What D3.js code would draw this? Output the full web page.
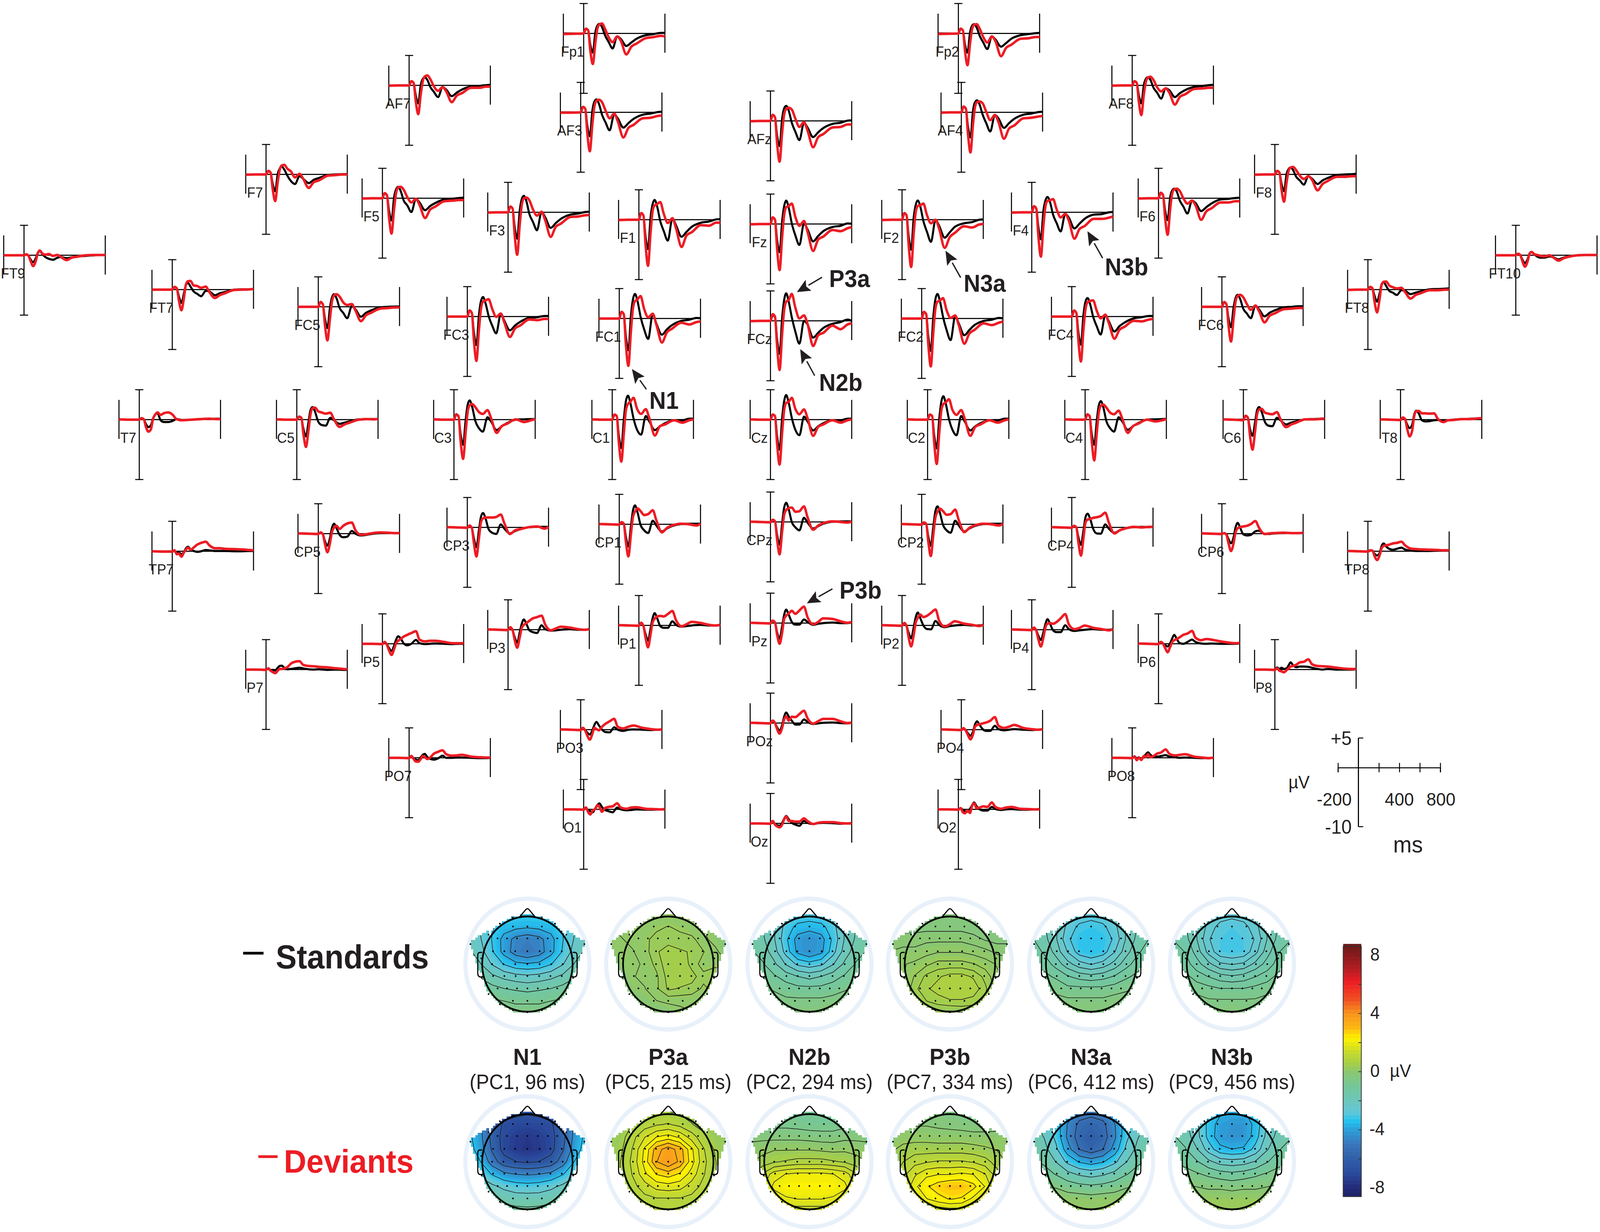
<!DOCTYPE html>
<html>
<head>
<meta charset="utf-8">
<script src="https://cdn.jsdelivr.net/npm/d3@7"></script>
<style>
  html, body { margin: 0; padding: 0; background: #fff; overflow: hidden; }
  svg { display: block; }
  text { font-family: "Liberation Sans", Arial, sans-serif; fill: #231f20; }
</style>
</head>
<body>
<div id="chart"></div>
<script>
// sample times of the traces (ms)
const times = [-200,-100,0,22,45,65,90,115,135,155,180,210,245,285,330,365,420,470,520,610,690,760,800];

// standards (s_) and deviants (d_) in microvolts
const s_Fp1 = [0,0,0,.8,.5,-1.8,-3.2,.2,1.3,1.6,1.1,-.3,-1.4,-2.5,-.5,-.9,-2.1,-1.5,-.9,-.3,-.1,.1,.1];
const d_Fp1 = [-.1,-.05,0,.8,.5,-2.8,-5.1,-1.6,.8,1.5,1.65,.8,-.6,-1.45,-.5,-1.2,-3.5,-2.2,-1.7,-.8,-.6,-.4,-.5];
const s_Fp2 = [0,0,0,.8,.5,-1.8,-3.2,.2,1.3,1.55,1,-.4,-1.5,-2.6,-.5,-1,-2.2,-1.6,-.9,-.3,-.1,.05,.1];
const d_Fp2 = [-.1,-.05,0,.8,.5,-2.9,-5.3,-1.7,.7,1.45,1.55,.8,-.6,-1.5,-.5,-1.3,-3.8,-2.4,-1.9,-.9,-.8,-.6,-.6];
const s_AF7 = [0,0,0,.7,.4,-1.6,-3,.1,1.1,1.35,.9,-.3,-1.1,-1.95,-.3,-.7,-1.8,-1.2,-.7,-.2,-.1,.05,.1];
const d_AF7 = [-.05,0,0,.7,.4,-2.6,-4.8,-1.5,.7,1.5,1.65,1,-.2,-.9,-.3,-1,-2.8,-1.7,-1.3,-.4,-.4,-.2,-.2];
const s_AF3 = [0,0,0,.9,.6,-2.2,-4,.3,1.8,2.15,1.4,-.4,-1.7,-3,-.3,-1,-2.55,-1.8,-1.1,-.4,-.2,.05,.1];
const d_AF3 = [-.05,-.05,0,.9,.6,-3.5,-6.5,-2,1,1.9,2.1,1.7,.3,-1,-.2,-1.5,-4.2,-2.6,-2.1,-1,-.9,-.6,-.55];
const s_AFz = [0,0,0,1,.6,-2.4,-4.2,.4,2.1,2.5,1.7,-.3,-1.8,-3.2,-.3,-1.1,-2.7,-1.9,-1.2,-.5,-.3,.05,.1];
const d_AFz = [-.05,0,0,1,.6,-3.7,-6.8,-2,1.1,2,2.2,1.9,.4,-1,-.2,-1.6,-4.4,-2.7,-2.2,-1.1,-1,-.6,-.6];
const s_AF4 = [0,0,0,.95,.6,-2.3,-4.2,.3,1.7,2,1.3,-.4,-1.8,-3.2,-.45,-1,-2.6,-1.8,-1.1,-.4,-.2,.05,.1];
const d_AF4 = [-.05,0,0,.95,.6,-3.6,-6.7,-2,.9,1.7,1.8,1.5,.1,-1.3,-.45,-1.6,-4.4,-2.7,-2.2,-1,-.9,-.7,-.6];
const s_AF8 = [0,0,0,.7,.4,-1.6,-3,.1,1.1,1.35,.9,-.4,-1.2,-2.2,-.5,-.8,-1.95,-1.3,-.8,-.25,-.1,.05,.1];
const d_AF8 = [-.05,0,0,.7,.4,-2.7,-4.95,-1.5,.6,1.3,1.45,.9,-.3,-1,-.5,-1.2,-3.2,-1.9,-1.5,-.6,-.5,-.4,-.4];
const s_F7 = [0,0,0,.5,.3,-1.5,-2.8,.1,1,1.3,.8,-.2,-1.1,-1.6,-.3,-.7,-1.45,-.9,-.6,-.1,0,.05,.05];
const d_F7 = [-.05,0,0,.6,.3,-2.4,-4.45,-1.3,.8,1.5,1.6,.95,.5,-.5,.1,-.7,-2.25,-1.3,-1,-.2,-.1,0,0];
const s_F5 = [0,0,0,.85,.5,-2,-3.7,.2,1.5,1.9,1.2,-.4,-1.2,-2.3,-.1,-.7,-2,-1.3,-.8,-.2,-.1,.05,.1];
const d_F5 = [-.05,0,0,.85,.5,-3.2,-5.9,-1.8,.9,1.8,1.9,1.4,.2,-.7,-.1,-1.1,-3.3,-1.9,-1.4,-.5,-.4,-.3,-.3];
const s_F3 = [0,0,0,.95,.6,-2.4,-4.4,.3,2.2,2.75,1.9,-.3,-1.6,-3,.1,-.8,-2.6,-1.8,-1.1,-.4,-.2,.05,.1];
const d_F3 = [-.05,0,0,.95,.6,-3.8,-7.1,-2.1,1.2,2.3,2.45,2,.5,-.55,.1,-1.3,-4.1,-2.4,-1.9,-.8,-.7,-.5,-.45];
const s_F1 = [0,0,0,1.1,.7,-2.7,-4.9,.4,2.6,3.3,2.2,-.2,-1.9,-3.5,.25,-.9,-2.85,-2,-1.2,-.5,-.3,.05,.1];
const d_F1 = [-.05,0,0,1.1,.7,-4.1,-7.7,-2.2,1.4,2.4,2.6,2.95,1,-.55,.25,-1.4,-4.55,-2.6,-2.1,-.9,-1,-.5,-.5];
const s_Fz = [0,0,0,1.1,.7,-2.6,-4.7,.5,3,3.9,2.7,.1,-1.9,-3.5,.1,-.9,-2.9,-2,-1.2,-.5,-.3,.1,.05];
const d_Fz = [-.05,0,0,1.1,.7,-4.1,-7.7,-2.2,1.5,2.8,3,3.4,1.2,-.3,.5,-1.3,-4.5,-2.6,-2.1,-1,-1.2,-.7,-.5];
const s_F2 = [0,0,0,1.1,.7,-2.7,-5,.4,2.5,3.2,2.2,-.2,-2,-3.7,0,-1,-3,-2.1,-1.2,-.6,-.4,0,.05];
const d_F2 = [-.05,0,0,1.1,.7,-4.2,-7.9,-2.3,1.3,2.3,2.4,2.7,.8,-.6,0,-1.5,-4.7,-2.9,-2.2,-1.1,-1.3,-.8,-.7];
const s_F4 = [0,0,0,1,.6,-2.4,-4.5,.3,2,2.55,1.7,-.4,-1.8,-3.2,-.25,-.9,-2.7,-1.9,-1.1,-.4,-.3,0,.05];
const d_F4 = [-.05,0,0,1,.6,-4,-7.4,-2.2,1,1.9,2,2.2,.5,-.85,-.25,-1.4,-4.4,-2.8,-2.3,-1.1,-1.1,-.9,-.7];
const s_F6 = [0,0,0,.9,.5,-2,-3.65,.2,1.3,1.6,1.1,-.4,-1.4,-2.55,-.4,-.8,-2.15,-1.5,-.9,-.2,-.1,.05,.1];
const d_F6 = [-.05,0,0,.9,.5,-3.3,-6.1,-1.8,.8,1.5,1.6,1.2,0,-.9,-.4,-1.2,-3.6,-2.2,-1.7,-.7,-.7,-.5,-.5];
const s_F8 = [0,0,0,.55,.3,-1.5,-2.8,.1,.9,1.15,.7,-.4,-1,-1.7,-.3,-.7,-1.6,-1,-.6,-.1,0,.05,.1];
const d_F8 = [-.05,0,0,.6,.3,-2.5,-4.55,-1.4,.6,1.15,1.25,.7,-.2,-.75,-.3,-.9,-2.65,-1.6,-1.1,-.4,-.4,-.3,-.3];
const s_FT9 = [0,0,0,.1,-.1,-.7,-1.15,-.5,.4,.7,.2,-.3,-.6,-.75,-.4,-.3,-.5,-.35,-.2,-.1,0,.05,.05];
const d_FT9 = [0,0,0,.15,-.1,-1,-1.8,-1,.3,.8,.3,.1,.2,-.1,.05,-.3,-.8,-.4,-.25,0,.05,.05,.05];
const s_FT7 = [0,0,0,.4,.2,-1.1,-2.2,-.6,.8,1.1,.5,-.3,-.7,-1.1,-.2,-.3,-.95,-.6,-.4,0,.05,.05,.1];
const d_FT7 = [0,0,0,.45,.2,-1.8,-3.45,-1.4,.9,1.4,1.45,.7,.6,.3,.5,-.4,-1.4,-.9,-.6,-.05,0,.05,.1];
const s_FC5 = [0,0,0,.8,.4,-1.9,-3.55,-.1,1.6,2.1,1.4,-.2,-1,-1.9,.1,-.4,-1.65,-1,-.6,-.1,0,.05,.05];
const d_FC5 = [0,0,0,.8,.4,-3,-5.6,-2,.9,1.9,2.1,1.7,.75,.3,.45,-.6,-2.4,-1.4,-1,-.3,-.2,-.1,-.1];
const s_FC3 = [0,0,0,1,.6,-2.6,-4.75,.3,2.6,3.25,2.2,.1,-1.5,-2.8,.5,-.7,-2.3,-1.5,-.9,-.2,-.1,.1,.1];
const d_FC3 = [0,0,0,1,.6,-4,-7.4,-2.2,1.3,2.5,2.7,2.9,1.3,-.05,.5,-1,-3.4,-2,-1.5,-.5,-.6,-.4,-.4];
const s_FC1 = [0,0,0,1.1,.7,-2.9,-5.3,.5,3.2,4.1,2.9,.3,-1.8,-3.4,.8,-.8,-2.7,-1.8,-1.1,-.4,-.2,.1,.05];
const d_FC1 = [0,0,0,1.1,.7,-4.3,-7.9,-2.2,1.7,2.9,3.2,3.75,1.6,.2,.8,-1,-4,-2.3,-1.7,-.7,-1,-.6,-.5];
const s_FCz = [0,0,0,.9,.6,-3,-5.5,.5,3.5,4.6,3.2,.6,-1.8,-3.8,0,-.6,-2.8,-2,-1.2,-.5,-.2,.2,0];
const d_FCz = [-.05,0,0,1.1,.7,-4.2,-8.2,-2.2,1.8,3.2,3.5,4.5,2.2,.4,.9,-.5,-4.2,-2.4,-2,-.8,-1.4,-.6,-.4];
const s_FC2 = [0,0,0,1.1,.7,-2.9,-5.4,.4,3.2,4.1,2.9,.3,-1.9,-3.6,.4,-.8,-2.8,-1.9,-1.1,-.4,-.2,.1,.05];
const d_FC2 = [0,0,0,1.1,.7,-4.3,-8,-2.2,1.6,2.8,3,3.4,1.4,.1,.5,-1.1,-4.2,-2.5,-1.9,-.8,-1.1,-.7,-.5];
const s_FC4 = [0,0,0,1,.6,-2.6,-4.7,.3,2.5,3.1,2.1,0,-1.6,-3,.3,-.8,-2.5,-1.6,-1,-.3,-.1,.1,.1];
const d_FC4 = [0,0,0,1,.6,-4,-7.5,-2.2,1.2,2.4,2.6,2.7,1,-.3,.3,-1.1,-3.7,-2.2,-1.7,-.7,-.8,-.5,-.4];
const s_FC6 = [0,0,0,.8,.4,-1.9,-3.4,-.1,1.5,2,1.3,-.3,-1.1,-1.9,.2,-.4,-1.6,-1,-.6,-.1,0,.1,.1];
const d_FC6 = [0,0,0,.8,.4,-3.1,-5.8,-2,.9,1.8,2,1.6,.5,-.5,.2,-.7,-2.6,-1.5,-1.1,-.4,-.3,-.2,-.2];
const s_FT8 = [0,0,0,.4,.2,-1,-2,-.6,.9,1.25,.6,-.2,-.5,-.9,-.1,-.2,-.75,-.5,-.3,.05,.1,.15,.2];
const d_FT8 = [-.05,0,0,.45,.2,-2,-3.8,-1.6,.8,1.3,1.35,.7,.4,.2,.3,-.4,-1.5,-.9,-.6,-.1,-.1,0,0];
const s_FT10 = [0,0,0,.2,0,-.7,-1.3,-.7,.3,.55,.2,-.2,-.4,-.4,-.2,-.3,-.7,-.4,-.2,0,.05,.05,.05];
const d_FT10 = [0,0,0,.25,0,-1,-1.9,-1.1,.2,.55,.2,.05,-.1,-.2,0,-.3,-.9,-.5,-.25,0,.05,.05,.05];
const s_T7 = [.05,0,0,.2,.05,-.7,-1.25,-.9,.2,.8,1.05,-.1,-.4,-.4,-.2,.1,-.05,-.05,0,.1,.1,.15,.15];
const d_T7 = [.05,0,0,.25,.05,-1.2,-2,-1.6,.1,.8,1.2,.8,1.1,1.2,.8,.1,-.1,-.05,0,.1,.15,.1,.1];
const s_C5 = [.05,0,0,.5,.2,-1.5,-2.8,-.4,1.6,2.1,1.3,-.3,-.9,-1,.3,-.1,-.7,-.5,-.3,.05,.1,.1,.1];
const d_C5 = [.05,0,0,.5,.3,-2.4,-4.55,-1.8,.9,1.9,2,1.4,1.2,1,1.15,.1,-1.2,-.8,-.5,0,.1,.05,.1];
const s_C3 = [.05,0,0,.9,.5,-2.3,-4.2,-.1,2.5,3.2,2.1,-.2,-1.4,-2,.4,-.3,-1.75,-1.1,-.6,0,.05,.1,.1];
const d_C3 = [.05,0,0,.85,.6,-3.5,-6.55,-2.2,1.3,2.4,2.6,2.1,1.3,.95,1.6,.3,-2.2,-1.1,-.7,.05,-.4,-.1,.1];
const s_C1 = [.05,0,0,.8,.6,-2.6,-4.75,.2,3.1,4,2.7,.2,-1.7,-2.5,.6,-.3,-1.75,-1.1,-.6,-.1,-.1,.15,.15];
const d_C1 = [.05,0,0,.85,.6,-3.8,-7,-2.2,1.6,2.6,3,3.65,1.8,.95,1.75,.3,-2.65,-1.1,-.8,-.1,-.5,-.1,.05];
const s_Cz = [.05,0,0,.8,.6,-2.7,-5,.3,3.1,4.1,2.8,.3,-1.7,-2.6,.5,-.3,-1.8,-1.1,-.6,-.1,-.1,.15,.15];
const d_Cz = [.05,0,0,.85,.6,-4,-7.5,-2.2,1.6,2.8,3,3.65,1.8,.9,1.7,.3,-2.7,-1.2,-.8,-.1,-.5,-.1,.05];
const s_C2 = [.05,0,0,.8,.6,-2.6,-4.8,.2,3,3.9,2.6,.1,-1.7,-2.6,.6,-.3,-1.8,-1.1,-.6,-.1,-.1,.15,.15];
const d_C2 = [.05,0,0,.85,.6,-3.9,-7.4,-2.2,1.5,2.6,2.9,3.4,1.6,.8,1.6,.2,-2.7,-1.2,-.8,-.1,-.5,-.1,.05];
const s_C4 = [.05,0,0,.9,.5,-2.3,-4.2,-.1,2.4,3.1,2,-.3,-1.4,-2,.4,-.3,-1.7,-1.1,-.6,0,.05,.1,.15];
const d_C4 = [.05,0,0,.85,.6,-3.6,-6.8,-2.2,1.2,2.3,2.5,2,1.2,.9,1.5,.2,-2.2,-1.1,-.7,0,-.3,-.1,.1];
const s_C6 = [.05,0,0,.65,.3,-1.5,-2.7,-.4,1.6,2.1,1.3,-.3,-1,-1.1,.3,-.1,-.8,-.5,-.3,.05,.1,.15,.2];
const d_C6 = [.05,0,-.1,.65,.3,-2.7,-5,-2,.9,1.7,1.8,1.2,1,.9,1.25,.1,-1.25,-.8,-.5,.05,.05,.1,.2];
const s_T8 = [.05,0,-.05,.3,.1,-.8,-1.4,-.8,.9,1.5,1,-.1,-.3,-.25,-.1,-.05,-.2,-.1,0,.1,.15,.2,.25];
const d_T8 = [.05,0,-.05,.35,.1,-1.5,-2.8,-1.8,.6,1.4,1.45,1.05,1.05,1,1.05,.2,-.4,-.1,-.05,.1,.1,.2,.25];
const s_TP7 = [0,-.05,-.05,.1,-.3,-.2,-.5,-.1,.5,.75,.3,.05,-.1,0,.2,.15,.05,.05,.05,0,0,.05,.05];
const d_TP7 = [0,-.05,-.05,.15,-.5,-.4,-.9,-.2,.3,.6,.25,.6,1.1,1.4,1.6,1,.5,.5,.4,.35,.3,.2,.15];
const s_CP5 = [.05,0,-.05,.2,-.1,-1.2,-2,-.7,1,1.65,.9,-.2,-.6,-.5,.45,0,-.3,-.2,-.05,.1,.1,.1,.1];
const d_CP5 = [.05,0,-.05,.2,-.1,-1.7,-3.1,-1.6,.3,1,1.3,.8,1.3,1.7,1.85,.6,-.2,-.1,.05,.2,.15,.1,.1];
const s_CP3 = [.05,0,-.05,.3,-.1,-1.8,-3.3,-.4,1.8,2.4,1.5,-.3,-.9,-1.1,.5,-.2,-1,-.6,-.3,.05,.1,.1,.1];
const d_CP3 = [.05,0,-.05,.3,-.1,-2.6,-4.85,-1.8,.9,1.5,1.65,1.65,1.65,1.75,2.15,.7,-1.1,-.5,-.3,.05,.15,-.2,.1];
const s_CP1 = [.05,0,-.05,.35,.1,-2,-3.7,-.3,2.3,3.15,2,-.1,-1,-1.45,.6,-.2,-1.2,-.7,-.3,.05,.1,.1,.1];
const d_CP1 = [.05,0,-.05,.35,.1,-2.9,-5.35,-1.7,1.2,2.1,2.65,2.2,1.55,1.7,2.35,.7,-1.35,-.6,-.2,.1,0,-.2,.1];
const s_CPz = [.05,0,-.05,.35,.1,-2.1,-3.8,-.2,2.4,3.2,2.1,0,-.9,-1.4,.7,-.1,-1.1,-.7,-.3,.05,.1,.1,.1];
const d_CPz = [.05,0,-.05,.35,.1,-2.9,-5.4,-1.6,1.2,2,2.3,2.4,1.7,1.8,2.6,.8,-1.3,-.6,-.2,.1,0,-.1,.1];
const s_CP2 = [.05,0,-.05,.3,.05,-2,-3.6,-.3,2.2,3,1.9,-.1,-1,-1.4,.6,-.2,-1.2,-.7,-.3,.05,.1,.1,.1];
const d_CP2 = [.05,0,-.05,.3,.05,-2.9,-5.3,-1.7,1.1,2.1,2.6,2.2,1.6,1.7,2.45,.7,-1.3,-.6,-.2,.1,0,-.2,.1];
const s_CP4 = [.05,0,-.05,.25,0,-1.6,-2.9,-.5,1.7,2.3,1.5,-.2,-1,-1.05,.5,-.2,-.9,-.5,-.2,.05,.1,.05,.1];
const d_CP4 = [.05,0,-.05,.25,0,-2.5,-4.7,-1.8,.8,1.3,1.4,1.6,1.7,1.9,2.45,.8,-1,-.5,-.2,.1,0,.1,.1];
const s_CP6 = [.05,0,-.05,.1,-.1,-.9,-1.6,-.6,1.1,1.8,1,-.1,-.3,-.2,.4,.5,-.05,-.05,.05,.1,.1,.1,.15];
const d_CP6 = [.05,0,-.05,.1,-.2,-1.6,-2.9,-1.6,.2,.9,1.1,1.2,1.3,1.6,2.1,1,-.05,.05,.1,.15,.1,.1,.15];
const s_TP8 = [.05,0,-.05,.1,.1,-.4,-.7,-.3,.9,1.3,.8,.4,.25,.4,.6,.3,.1,.05,.05,.05,.1,.1,.15];
const d_TP8 = [.05,0,-.05,.15,.1,-.8,-1.45,-.7,.5,.9,1,1.1,1.3,1.4,1.6,1,.45,.35,.3,.25,.2,.15,.15];
const s_P7 = [0,0,-.05,.2,-.1,-.05,-.15,.3,.6,.65,.3,.05,.1,.2,.3,.2,.05,0,.05,-.05,0,-.05,-.05];
const d_P7 = [0,0,-.05,.2,-.2,-.4,-.6,-.2,.1,.1,.2,.4,1,1.3,1.4,.8,.6,.55,.45,.35,.2,.1,.05];
const s_P5 = [0,0,-.05,.3,-.1,-.7,-1.2,-.3,.7,1.25,.9,.05,-.25,0,.65,.1,-.05,0,.05,0,-.05,0,0];
const d_P5 = [0,0,-.05,.3,-.2,-1.1,-1.85,-.9,.1,.5,.8,1.2,1.5,1.8,2.1,.7,.4,.5,.5,.3,.1,.1,.1];
const s_P3 = [.05,0,-.05,.4,-.1,-1.2,-2.15,-.4,1,1.7,1,-.1,-.4,-.55,.75,.1,-.15,-.1,0,.1,0,0,.1];
const d_P3 = [.05,0,-.05,.4,-.1,-1.7,-3,-1.3,.3,.8,1.1,1.5,1.9,2.1,2.35,.9,-.1,.2,.5,.35,.1,0,.1];
const s_P1 = [.05,0,-.05,.45,-.1,-1.4,-2.55,-.5,1.2,2.05,1.2,-.1,-.4,-.4,.7,.1,-.2,-.1,0,.1,0,0,.1];
const d_P1 = [.05,0,-.05,.45,-.1,-2,-3.65,-1.5,.5,1.1,1.5,1.6,1.5,1.9,2.4,.9,-.15,.2,.6,.4,.1,0,.1];
const s_Pz = [.05,0,-.05,.4,.05,-1.5,-2.6,-.5,1.4,2.25,1.4,.2,-.25,-.25,.6,.2,-.3,-.1,0,.1,0,0,.1];
const d_Pz = [.05,0,-.05,.4,.1,-1.9,-3.45,-1.6,.7,1.25,1.6,2.05,1.55,2.1,2.75,1,-.2,.2,.8,.7,.3,.05,.2];
const s_P2 = [.05,0,-.05,.4,-.1,-1.2,-2.15,-.3,1.4,2.15,1.2,0,-.6,-.65,.75,.1,-.3,-.1,0,.1,0,0,.1];
const d_P2 = [.05,0,-.05,.4,-.1,-2,-3.5,-1.6,.5,1.25,1.8,1.4,1.6,2.1,2.65,.8,-.2,.2,.7,.3,.1,-.1,.1];
const s_P4 = [.05,0,-.05,.35,-.1,-1,-1.7,-.4,1,1.75,1,-.1,-.4,-.4,.75,.1,-.2,-.1,0,.1,0,0,.1];
const d_P4 = [.05,0,-.05,.35,-.2,-1.6,-2.8,-1.3,.4,1,1.1,1,1.3,1.9,2.6,.9,.1,.3,.7,.3,.1,-.1,.1];
const s_P6 = [.05,0,-.05,.3,.05,-.2,-.45,.1,.9,1.5,.8,.1,0,.3,.7,.3,.05,0,.05,0,0,0,.1];
const d_P6 = [.05,0,-.05,.3,0,-.7,-1.4,-.5,.3,.6,.8,1.1,1.5,1.7,2.15,1,.6,.8,.7,.4,.2,.1,.15];
const s_P8 = [0,0,-.05,.35,.1,.3,.1,.2,.7,1.2,.7,.4,.5,.5,.45,.3,.1,0,.1,0,0,0,.05];
const d_P8 = [0,0,-.05,.2,-.2,-.3,-.45,-.1,.2,.5,.6,.8,1.2,1.3,1.7,.9,.6,.55,.5,.3,.15,.1,.1];
const s_PO7 = [0,0,-.05,.3,-.1,-.3,-.4,.1,.5,.65,.1,-.2,-.3,-.1,.35,0,0,.05,.05,0,-.05,-.05,0];
const d_PO7 = [0,0,-.05,.3,-.2,-.6,-.65,-.2,.3,.1,-.2,.1,.7,1,1.25,.6,.35,.4,.5,.2,.1,.05,.05];
const s_PO3 = [.05,0,-.05,.3,-.1,-.5,-.8,-.1,.8,1.3,.7,0,-.4,-.45,.4,0,-.2,0,.05,0,-.05,0,.05];
const d_PO3 = [.05,0,-.05,.3,-.2,-1,-1.65,-.7,.3,.1,-.1,.5,1,1.4,1.8,.5,.2,.5,.7,.3,.1,0,.05];
const s_POz = [.05,0,-.05,.35,0,-.7,-1.25,-.3,1.1,1.75,1.1,.4,-.25,-.25,.6,.2,-.15,-.05,.05,.1,0,-.05,.05];
const d_POz = [.05,0,-.05,.4,0,-1,-1.75,-.8,.6,1.1,.4,1.05,1,1.5,2.05,.8,-.1,.3,.7,.7,.3,0,.1];
const s_PO4 = [.05,0,-.05,.2,-.1,-.6,-1,-.3,.9,1.4,.8,.1,-.2,-.2,.65,.1,-.1,0,.1,0,-.05,0,.05];
const d_PO4 = [.05,0,-.05,.25,-.2,-.9,-1.6,-.8,.5,.8,.9,1.05,1.2,1.5,2.1,.7,.3,.5,.8,.3,.1,0,.1];
const s_PO8 = [0,0,-.05,.25,-.1,.1,-.15,.2,.6,.9,.5,.2,.2,.3,.45,.2,.1,0,.05,0,-.05,-.05,0];
const d_PO8 = [0,0,-.05,.2,-.4,.05,-.35,.3,.1,.6,.1,.3,.7,.9,1.4,.7,.4,.5,.6,.2,.05,-.05,.05];
const s_O1 = [0,0,-.05,.3,-.2,-.3,-.5,.2,.7,1,.4,-.1,-.3,-.5,.3,0,-.15,-.1,0,-.05,-.05,0,0];
const d_O1 = [0,0,-.05,.3,-.5,-.85,-.2,.1,.7,.4,-.4,.2,.4,.5,1,.3,.1,.3,.35,.1,.05,0,.05];
const s_Oz = [0,0,-.05,.4,-.1,-.3,-.4,.1,.8,1.25,.7,.1,-.2,-.4,.4,.1,-.1,.05,.1,.05,-.05,0,0];
const d_Oz = [0,0,-.05,.4,-.2,-.5,-.65,-.2,.7,1.15,.4,.4,.3,.3,.85,.4,-.1,.1,.2,.2,.05,0,.05];
const s_O2 = [0,0,-.05,.2,-.1,-.3,-.4,.1,.7,1.15,.5,0,-.2,-.2,.4,.05,-.1,0,.05,-.05,-.05,0,0];
const d_O2 = [0,0,-.05,.2,-.5,-.65,-.2,-.6,.6,1,.2,.3,.5,.4,1.15,.4,.1,.3,.4,.1,.05,0,.05];

const channels = ["Fp1","Fp2","AF7","AF3","AFz","AF4","AF8","F7","F5","F3","F1","Fz","F2","F4","F6","F8","FT9","FT7","FC5","FC3","FC1","FCz","FC2","FC4","FC6","FT8","FT10","T7","C5","C3","C1","Cz","C2","C4","C6","T8","TP7","CP5","CP3","CP1","CPz","CP2","CP4","CP6","TP8","P7","P5","P3","P1","Pz","P2","P4","P6","P8","PO7","PO3","POz","PO4","PO8","O1","Oz","O2"];
const standards = [s_Fp1,s_Fp2,s_AF7,s_AF3,s_AFz,s_AF4,s_AF8,s_F7,s_F5,s_F3,s_F1,s_Fz,s_F2,s_F4,s_F6,s_F8,s_FT9,s_FT7,s_FC5,s_FC3,s_FC1,s_FCz,s_FC2,s_FC4,s_FC6,s_FT8,s_FT10,s_T7,s_C5,s_C3,s_C1,s_Cz,s_C2,s_C4,s_C6,s_T8,s_TP7,s_CP5,s_CP3,s_CP1,s_CPz,s_CP2,s_CP4,s_CP6,s_TP8,s_P7,s_P5,s_P3,s_P1,s_Pz,s_P2,s_P4,s_P6,s_P8,s_PO7,s_PO3,s_POz,s_PO4,s_PO8,s_O1,s_Oz,s_O2];
const deviants = [d_Fp1,d_Fp2,d_AF7,d_AF3,d_AFz,d_AF4,d_AF8,d_F7,d_F5,d_F3,d_F1,d_Fz,d_F2,d_F4,d_F6,d_F8,d_FT9,d_FT7,d_FC5,d_FC3,d_FC1,d_FCz,d_FC2,d_FC4,d_FC6,d_FT8,d_FT10,d_T7,d_C5,d_C3,d_C1,d_Cz,d_C2,d_C4,d_C6,d_T8,d_TP7,d_CP5,d_CP3,d_CP1,d_CPz,d_CP2,d_CP4,d_CP6,d_TP8,d_P7,d_P5,d_P3,d_P1,d_Pz,d_P2,d_P4,d_P6,d_P8,d_PO7,d_PO3,d_POz,d_PO4,d_PO8,d_O1,d_Oz,d_O2];

// scalp maps: 11 x 11 microvolt grids, front of the head first
const map_s_N1 = [
-2.5,-2.5,-2.6,-2.8,-2.8,-2.8,-2.8,-2.8,-2.6,-2.5,-2.5,
-2.4,-2.6,-2.9,-3,-3.1,-3.1,-3.1,-3,-2.9,-2.6,-2.4,
-2.2,-2.6,-3.1,-3.5,-3.6,-3.7,-3.6,-3.5,-3.1,-2.6,-2.2,
-2,-2.5,-3.2,-4,-4.6,-4.8,-4.6,-4,-3.2,-2.5,-2,
-1.8,-2.3,-3.1,-4,-4.7,-5,-4.7,-4,-3.1,-2.3,-1.8,
-1.4,-1.9,-2.6,-3.2,-3.6,-3.7,-3.6,-3.2,-2.6,-1.9,-1.4,
-1,-1.4,-1.8,-2.1,-2.3,-2.4,-2.3,-2.1,-1.8,-1.4,-1,
-.6,-.9,-1.1,-1.3,-1.4,-1.5,-1.4,-1.3,-1.1,-.9,-.6,
-.3,-.5,-.6,-.7,-.8,-.8,-.8,-.7,-.6,-.5,-.3,
-.2,-.2,-.3,-.3,-.4,-.4,-.4,-.3,-.3,-.2,-.2,
-.1,-.1,-.2,-.2,-.2,-.2,-.2,-.2,-.2,-.1,-.1];
const map_d_N1 = [
-4,-4.5,-5,-5.5,-5.8,-5.8,-5.8,-5.5,-5,-4.5,-4,
-3.8,-4.5,-5.5,-6.2,-6.4,-6.5,-6.4,-6.2,-5.5,-4.5,-3.8,
-3.4,-4.3,-5.8,-6.8,-7,-7.1,-7,-6.8,-5.8,-4.3,-3.4,
-3.1,-4.2,-5.9,-7,-7.4,-7.6,-7.4,-7,-5.9,-4.2,-3.1,
-2.9,-4,-5.7,-7,-7.5,-7.7,-7.5,-7,-5.7,-4,-2.9,
-2.4,-3.4,-5,-6.2,-6.6,-6.8,-6.6,-6.2,-5,-3.4,-2.4,
-1.8,-2.6,-3.5,-4.2,-4.5,-4.6,-4.5,-4.2,-3.5,-2.6,-1.8,
-1.1,-1.6,-2.1,-2.6,-2.9,-3,-2.9,-2.6,-2.1,-1.6,-1.1,
-.6,-.9,-1.3,-1.6,-1.8,-1.8,-1.8,-1.6,-1.3,-.9,-.6,
-.3,-.5,-.7,-.8,-.9,-1,-.9,-.8,-.7,-.5,-.3,
-.2,-.3,-.4,-.5,-.5,-.6,-.5,-.5,-.4,-.3,-.2];
const map_s_P3a = [
.1,.1,.1,.1,.1,.1,.1,.1,.05,.05,.05,
.1,.1,.1,.1,.1,.1,.1,.1,.05,0,0,
.05,.1,.1,.15,.2,.25,.2,.1,.05,0,-.05,
0,.05,.1,.2,.3,.35,.3,.3,.1,0,-.05,
-.05,.05,.05,.15,.4,.5,.45,.4,.25,.1,-.05,
-.1,0,0,.1,.3,.55,.6,.35,.15,.2,.1,
-.1,-.1,.05,.1,.2,.5,.55,.5,.3,.35,.3,
-.1,-.1,0,.05,.2,.45,.4,.35,.2,.3,.3,
-.15,-.15,-.1,-.05,.05,.1,.1,.1,.1,.1,.1,
-.2,-.2,-.25,-.25,-.2,-.1,0,.05,.05,.05,.05,
-.2,-.2,-.3,-.3,-.25,-.1,0,.05,.05,.05,.05];
const map_d_P3a = [
.1,.1,.2,.3,.4,.4,.4,.3,.2,.1,.1,
.1,.2,.3,.5,.6,.6,.5,.4,.2,.1,.1,
.1,.3,.6,.8,1,1.1,.9,.6,.4,.2,.1,
.15,.4,.9,1.5,2,2.2,1.9,1.3,.7,.3,.15,
.2,.5,1.1,2.1,3.2,3.7,3.2,2.1,1.1,.5,.2,
.25,.6,1.2,2.2,3.4,3.9,3.3,2.2,1.2,.6,.25,
.3,.6,1.1,1.9,2.5,2.7,2.4,1.8,1.1,.6,.3,
.3,.55,.9,1.3,1.7,1.8,1.7,1.3,.9,.55,.3,
.3,.5,.7,.9,1,1,1,.9,.7,.5,.3,
.3,.4,.5,.6,.7,.7,.7,.6,.5,.4,.3,
.3,.4,.4,.5,.5,.5,.5,.5,.4,.4,.3];
const map_s_N2b = [
-1.9,-2,-2.1,-2.3,-2.5,-2.6,-2.5,-2.3,-2.1,-2,-1.9,
-1.7,-1.9,-2.1,-2.5,-2.9,-3,-2.9,-2.5,-2.1,-1.9,-1.7,
-1.5,-1.7,-2.2,-3,-3.5,-3.6,-3.5,-3,-2.2,-1.7,-1.5,
-1.3,-1.6,-2.2,-3.2,-4.1,-4.4,-4.1,-3.2,-2.2,-1.6,-1.3,
-1.1,-1.4,-2,-3,-4,-4.4,-4,-3,-2,-1.4,-1.1,
-.9,-1.1,-1.6,-2.3,-2.9,-3.1,-2.9,-2.3,-1.6,-1.1,-.9,
-.6,-.8,-1.1,-1.4,-1.7,-1.9,-1.7,-1.4,-1.1,-.8,-.6,
-.4,-.5,-.7,-.9,-1,-1,-1,-.9,-.7,-.5,-.4,
-.3,-.3,-.4,-.5,-.5,-.5,-.5,-.4,-.3,-.3,-.2,
-.2,-.2,-.3,-.3,-.3,-.3,-.2,-.2,-.1,-.1,-.1,
-.2,-.2,-.2,-.2,-.2,-.2,-.2,-.1,-.1,-.1,-.1];
const map_d_N2b = [
-1,-1,-1,-1,-1,-1,-1,-1,-1,-1,-1,
-.9,-.9,-.9,-.9,-.9,-.9,-.9,-.95,-.95,-.9,-.9,
-.6,-.7,-.7,-.7,-.75,-.8,-.8,-.8,-.7,-.6,-.6,
-.3,-.3,-.3,-.3,-.3,-.35,-.4,-.4,-.3,-.3,-.3,
0,.1,.2,.2,.2,.2,.15,.1,.15,.1,0,
.2,.4,.6,.7,.8,.8,.8,.7,.6,.4,.2,
.4,1.1,1.7,1.9,2,2,2,1.9,1.7,1.1,.4,
.5,1.4,2,2.3,2.3,2.3,2.3,2.3,2,1.4,.5,
.5,1.2,1.6,1.8,1.9,1.9,1.9,1.8,1.6,1.2,.5,
.4,.9,1.1,1.2,1.2,1.2,1.2,1.2,1.1,.9,.4,
.3,.6,.8,.9,.9,.9,.9,.9,.8,.6,.3];
const map_s_P3b = [
-.4,-.4,-.4,-.4,-.4,-.4,-.4,-.4,-.4,-.4,-.4,
-.35,-.35,-.35,-.35,-.35,-.35,-.35,-.35,-.35,-.35,-.35,
-.25,-.3,-.3,-.3,-.3,-.3,-.3,-.35,-.4,-.4,-.4,
-.15,-.15,-.15,-.1,-.1,-.1,-.1,-.15,-.25,-.3,-.3,
-.05,0,0,.05,.1,.1,.1,.05,0,-.1,-.1,
0,.1,.15,.25,.35,.35,.35,.3,.2,.1,0,
0,.1,.3,.5,.6,.7,.7,.6,.4,.15,.05,
0,.1,.4,.6,.7,.8,.8,.75,.5,.2,.05,
0,.1,.3,.45,.55,.6,.6,.55,.4,.2,.05,
0,0,.1,.15,.2,.2,.25,.25,.2,.1,0,
0,0,.1,.1,.1,.1,.1,.1,.1,.1,0];
const map_d_P3b = [
-.5,-.5,-.5,-.5,-.5,-.5,-.5,-.5,-.5,-.5,-.5,
-.4,-.4,-.4,-.4,-.45,-.5,-.55,-.6,-.6,-.5,-.4,
-.2,-.2,-.2,-.2,-.25,-.3,-.35,-.4,-.4,-.35,-.3,
0,.1,.1,.1,.05,.05,.05,0,0,0,0,
.2,.4,.5,.5,.5,.5,.5,.45,.35,.25,.1,
.3,.7,1,1.1,1.2,1.2,1.2,1.1,.9,.5,.2,
.5,1,1.5,1.9,2,2,2.1,2,1.6,.9,.3,
.5,1.1,1.9,2.4,2.7,2.9,2.9,2.6,2,1.1,.4,
.5,.9,1.5,2,2.3,2.5,2.4,1.9,1.5,.9,.3,
.3,.6,.9,1.1,1.2,1.3,1.3,1.1,.9,.6,.3,
.2,.4,.6,.7,.8,.8,.8,.7,.6,.4,.2];
const map_s_N3a = [
-1.8,-1.9,-2,-2.1,-2.3,-2.3,-2.3,-2.1,-2,-1.9,-1.8,
-1.7,-1.8,-2,-2.3,-2.7,-2.8,-2.7,-2.3,-2,-1.8,-1.7,
-1.5,-1.7,-2.1,-2.7,-3.1,-3.2,-3.1,-2.7,-2.1,-1.7,-1.5,
-1.3,-1.6,-2.1,-2.9,-3.3,-3.4,-3.3,-2.9,-2.1,-1.6,-1.3,
-1.1,-1.4,-1.9,-2.6,-3.2,-3.4,-3.2,-2.6,-1.9,-1.4,-1.1,
-.9,-1.1,-1.5,-2,-2.4,-2.6,-2.4,-2,-1.5,-1.1,-.9,
-.6,-.8,-1,-1.3,-1.5,-1.6,-1.5,-1.3,-1,-.8,-.6,
-.4,-.5,-.6,-.8,-.8,-.8,-.8,-.7,-.6,-.4,-.3,
-.2,-.3,-.4,-.4,-.4,-.4,-.4,-.3,-.2,-.2,-.1,
-.1,-.2,-.2,-.2,-.3,-.3,-.2,-.1,-.1,-.1,-.1,
-.1,-.2,-.2,-.2,-.2,-.2,-.1,-.1,-.1,-.1,-.1];
const map_d_N3a = [
-2.2,-2.5,-3,-3.5,-4,-4.2,-4,-3.5,-3,-2.5,-2.2,
-2,-2.4,-3,-3.8,-4.8,-5,-4.8,-3.8,-3,-2.4,-2,
-1.8,-2.2,-3.1,-4.5,-5.5,-5.7,-5.5,-4.5,-3.1,-2.2,-1.8,
-1.6,-2,-3,-4.6,-5.7,-6.1,-5.7,-4.6,-3,-2,-1.6,
-1.3,-1.7,-2.6,-4.1,-5.3,-5.8,-5.3,-4.1,-2.6,-1.7,-1.3,
-1,-1.3,-2,-3,-3.7,-4,-3.7,-3,-2,-1.3,-1,
-.6,-.8,-1.2,-1.7,-2.1,-2.3,-2.1,-1.7,-1.2,-.8,-.6,
-.2,-.3,-.4,-.7,-.9,-1,-.9,-.7,-.4,-.3,-.2,
.2,.2,.2,.1,.1,0,.1,.1,.2,.2,.2,
.4,.4,.4,.4,.3,.1,.3,.4,.4,.4,.4,
.5,.5,.5,.5,.4,.2,.4,.5,.5,.5,.5];
const map_s_N3b = [
-1.7,-1.8,-1.9,-2,-2.2,-2.2,-2.2,-2,-1.9,-1.8,-1.7,
-1.6,-1.7,-1.9,-2.2,-2.5,-2.6,-2.5,-2.2,-1.9,-1.7,-1.6,
-1.4,-1.6,-2,-2.5,-2.9,-3,-2.9,-2.5,-2,-1.6,-1.4,
-1.3,-1.5,-2,-2.7,-3,-3.1,-3,-2.7,-2,-1.5,-1.3,
-1.1,-1.3,-1.8,-2.5,-3,-3.1,-3,-2.5,-1.8,-1.3,-1.1,
-.9,-1.1,-1.5,-1.9,-2.3,-2.4,-2.3,-1.9,-1.5,-1.1,-.9,
-.6,-.8,-1.1,-1.3,-1.5,-1.6,-1.5,-1.3,-1.1,-.8,-.6,
-.4,-.5,-.7,-.8,-.9,-.9,-.9,-.8,-.7,-.5,-.4,
-.3,-.3,-.4,-.5,-.5,-.5,-.5,-.5,-.4,-.3,-.3,
-.2,-.2,-.3,-.3,-.3,-.2,-.3,-.3,-.3,-.2,-.2,
-.2,-.2,-.2,-.3,-.3,-.2,-.3,-.3,-.2,-.2,-.2];
const map_d_N3b = [
-1.7,-1.9,-2.2,-2.8,-3.1,-3.3,-3.3,-3,-2.4,-2,-1.8,
-1.6,-1.9,-2.3,-3,-3.6,-3.8,-3.8,-3.2,-2.5,-2,-1.7,
-1.5,-1.8,-2.4,-3.3,-4,-4.2,-4.2,-3.5,-2.5,-1.9,-1.6,
-1.3,-1.6,-2.3,-3.3,-4.1,-4.3,-4.2,-3.4,-2.3,-1.7,-1.4,
-1,-1.3,-1.9,-2.8,-3.5,-3.7,-3.6,-2.9,-2,-1.4,-1.1,
-.7,-1,-1.3,-1.8,-2.2,-2.3,-2.2,-1.9,-1.4,-1,-.7,
-.4,-.5,-.7,-.9,-1.1,-1.2,-1.1,-.9,-.7,-.5,-.4,
-.1,-.1,-.2,-.3,-.3,-.4,-.3,-.3,-.2,-.1,-.1,
.2,.2,.2,.2,.2,.2,.2,.2,.2,.2,.2,
.3,.3,.4,.4,.4,.4,.4,.4,.4,.3,.3,
.4,.4,.4,.4,.4,.4,.4,.4,.4,.4,.4];

const components = ["N1","P3a","N2b","P3b","N3a","N3b"];
const componentInfo = ["(PC1, 96 ms)","(PC5, 215 ms)","(PC2, 294 ms)","(PC7, 334 ms)","(PC6, 412 ms)","(PC9, 456 ms)"];
const standardMaps = [map_s_N1,map_s_P3a,map_s_N2b,map_s_P3b,map_s_N3a,map_s_N3b];
const deviantMaps = [map_d_N1,map_d_P3a,map_d_N2b,map_d_P3b,map_d_N3a,map_d_N3b];
const standardContours = [7,4,7,6,7,7];
const deviantContours = [6,7,7,7,7,7];

const colorValues = [-8.6,-8,-7,-6,-5,-4,-3.4,-2.8,-2,-1,0,.6,1.3,2.3,3,4,5,6.2,7,8,8.6];
const colorStops = ["#1f2264","#232a7a","#2a4a9c","#2f5fa8","#3a76ba","#2d9fd9","#25c2ef","#62c8d8","#6cc6bb","#75c79a","#8cc76f","#a8cf45","#c5d92f","#fff200","#fdb813","#f7941d","#f04e23","#ed1c24","#b51e23","#8a1a1c","#6e1a1a"];
const colorbarTicks = [-8,-6,-4,-2,0,2,4,6,8];
const colorbarLabels = [8,4,0,-4,-8];

// page layout: trace origins in reference pixels, same order as channels
const originX = [1576,2587,1105,1568,2080,2595,3056,719,1033,1372,1725,2080,2435,2785,3127,3441,66,466,860,1262,1672,2080,2488,2893,3298,3692,4091,377,802,1226,1653,2080,2504,2929,3356,3780,466,860,1262,1672,2080,2488,2893,3298,3692,719,1033,1372,1725,2080,2435,2785,3127,3441,1105,1568,2080,2595,3056,1576,2080,2587];
const originY = [85,85,218,287,309,287,218,446,507,543,562,573,562,543,507,446,653,741,785,810,815,821,815,810,785,741,653,1074,1074,1074,1074,1074,1074,1074,1074,1074,1411,1366,1350,1342,1336,1342,1350,1366,1411,1714,1648,1612,1601,1595,1601,1612,1648,1714,1940,1868,1851,1868,1940,2072,2108,2072];
const mapX = [1423,1803,2184,2563,2944,3324];
const mapY = [2469,2975];
const R = 122;

const arrows = [
  {label:"P3a", x:2237, y:735,  from:[2218,710],  to:[2150,748]},
  {label:"N2b", x:2210, y:1001, from:[2198,962],  to:[2159,894]},
  {label:"P3b", x:2265, y:1533, from:[2246,1508], to:[2177,1545]},
  {label:"N1",  x:1752, y:1047, from:[1744,997],  to:[1705,945]},
  {label:"N3a", x:2600, y:747,  from:[2592,711],  to:[2551,642]},
  {label:"N3b", x:2981, y:705,  from:[2975,661],  to:[2934,592]}
];

// electrode dots in head units (radius = 1)
const dotRows = [
  [-.79,[-.32,0,.32]],
  [-.54,[-.66,-.45,-.23,0,.23,.45,.66]],
  [-.27,[-.76,-.51,-.27,0,.27,.51,.76]],
  [0,[-.78,-.53,-.27,0,.27,.53,.78]],
  [.25,[-.76,-.51,-.26,0,.26,.51,.76]],
  [.51,[-.66,-.45,-.23,0,.23,.45,.66]],
  [.77,[-.32,0,.32]]
];
const rimDots = [[-.32,-.97],[0,-1],[.32,-.97],[-.61,-.85],[.61,-.85],[-.86,-.62],[.86,-.62],[-1.26,-.42],[1.26,-.42],[-1.02,-.12],[1.02,-.12],[-1.01,.29],[1.01,.29],[-.86,.63],[.86,.63],[-.61,.84],[.61,.84],[-.32,.97],[0,1.01],[.32,.97]];

const WIDTH = 4317, HEIGHT = 3155;
const INK = "#231f20", RED = "#ed1c24";

// the browser may hand out a narrower window than asked for, so the whole
// drawing is fitted to whatever frame there is
const svg = d3.select("#chart").append("svg")
  .attr("width", window.innerWidth)
  .attr("height", window.innerHeight)
  .attr("viewBox", `0 0 ${WIDTH} ${HEIGHT}`)
  .attr("preserveAspectRatio", "none");

const defs = svg.append("defs");

function vline(g, x, y1, y2, w) {
  g.append("line").attr("x1", x).attr("x2", x).attr("y1", y1).attr("y2", y2)
    .attr("stroke", "#000").attr("stroke-width", w);
}
function hline(g, x1, x2, y, w) {
  g.append("line").attr("x1", x1).attr("x2", x2).attr("y1", y).attr("y2", y)
    .attr("stroke", "#000").attr("stroke-width", w);
}

/* waveform panels */
channels.forEach((name, i) => {
  const x0 = originX[i], y0 = originY[i];
  const x = d3.scaleLinear().domain([-200, 800]).range([x0 - 56, x0 + 218]);
  const y = d3.scaleLinear().domain([-10, 5]).range([y0 + 154, y0 - 76]);
  const g = svg.append("g").attr("class", "channel");

  hline(g, x(-200), x(800), y(0), 2.6);
  vline(g, x(0), y(5), y(-10), 2.8);
  hline(g, x(0) - 11, x(0) + 11, y(5), 2.6);
  hline(g, x(0) - 11, x(0) + 11, y(-10), 2.6);
  vline(g, x(-200), y0 - 50, y0 + 50, 2.8);
  vline(g, x(800), y0 - 50, y0 + 50, 2.8);

  const line = d3.line()
    .x((d, j) => x(times[j]))
    .y(d => y(d))
    .curve(d3.curveMonotoneX);

  g.append("path").attr("d", line(standards[i])).attr("fill", "none")
    .attr("stroke", "#000").attr("stroke-width", 5.5).attr("stroke-linejoin", "round");
  g.append("path").attr("d", line(deviants[i])).attr("fill", "none")
    .attr("stroke", RED).attr("stroke-width", 6.5).attr("stroke-linejoin", "round");

  g.append("text").attr("x", x0 - 31).attr("y", y0 + 60)
    .attr("text-anchor", "middle").attr("font-size", 37).text(name);
});

/* annotation arrows */
arrows.forEach(a => {
  const dx = a.to[0] - a.from[0], dy = a.to[1] - a.from[1];
  const len = Math.hypot(dx, dy), ux = dx / len, uy = dy / len;
  const bx = a.to[0] - ux * 36, by = a.to[1] - uy * 36;
  svg.append("line").attr("x1", a.from[0]).attr("y1", a.from[1]).attr("x2", bx).attr("y2", by)
    .attr("stroke", INK).attr("stroke-width", 3.5);
  svg.append("polygon")
    .attr("points", [a.to, [bx - uy * 16, by + ux * 16], [bx + ux * 7, by + uy * 7], [bx + uy * 16, by - ux * 16]].join(" "))
    .attr("fill", INK);
  svg.append("text").attr("x", a.x).attr("y", a.y)
    .attr("font-size", 62).attr("font-weight", "bold").text(a.label);
});

/* voltage / time scale bar */
{
  const sx = d3.scaleLinear().domain([-200, 800]).range([3610, 3886]);
  const sy = d3.scaleLinear().domain([-10, 5]).range([2117, 1890]);
  const g = svg.append("g");
  const axis = g.append("g").attr("transform", `translate(0,${sy(0)})`)
    .call(d3.axisBottom(sx).tickValues([-200, 200, 400, 600, 800]).tickSize(12).tickFormat(""));
  axis.selectAll("path").attr("stroke", "#000").attr("stroke-width", 2.5);
  axis.selectAll("line").attr("y1", -12).attr("stroke", "#000").attr("stroke-width", 2.5);
  vline(g, sx(0), sy(5), sy(-10), 3);
  hline(g, sx(0), sx(0) + 13, sy(5), 2.5);
  hline(g, sx(0), sx(0) + 13, sy(-10), 2.5);
  g.append("text").attr("x", sx(0) - 18).attr("y", sy(5) + 18).attr("text-anchor", "end").attr("font-size", 50).text("+5");
  g.append("text").attr("x", sx(0) - 18).attr("y", sy(-10) + 18).attr("text-anchor", "end").attr("font-size", 50).text("-10");
  [[-200, "-200", 3600], [400, "400", sx(400)], [800, "800", sx(800) + 2]].forEach(d => {
    g.append("text").attr("x", d[2]).attr("y", 2063).attr("text-anchor", "middle").attr("font-size", 47).text(d[1]);
  });
  g.append("text").attr("x", 3799).attr("y", 2183).attr("text-anchor", "middle").attr("font-size", 60).text("ms");
  g.append("text").attr("x", 3505).attr("y", 2019).attr("text-anchor", "middle").attr("font-size", 46).text("µV");
}

/* scalp maps */
const color = d3.scaleLinear().domain(colorValues).range(colorStops).clamp(true);

// stair-stepped mask: head disc plus the two side wings
const wingL = [[-.85,-.72],[-1.26,-.48],[-1.25,-.38],[-1.05,.2],[-.85,.2]];
const wingR = wingL.map(p => [-p[0], p[1]]);
const cell = 6;
let maskPath = "";
d3.range(-170, 170, cell).forEach(px => {
  d3.range(-170, 170, cell).forEach(py => {
    const u = (px + cell / 2) / R, v = (py + cell / 2) / R;
    if (Math.hypot(u, v) < 1.035 || d3.polygonContains(wingL, [u, v]) || d3.polygonContains(wingR, [u, v])) {
      maskPath += `M${px},${py}h${cell}v${cell}h${-cell}z`;
    }
  });
});
defs.append("clipPath").attr("id", "scalp-mask").append("path").attr("d", maskPath);

const gridScale = d3.scaleLinear().domain([.5, 10.5]).range([-1.3 * R, 1.3 * R]);
const gridPath = d3.geoPath(d3.geoTransform({
  point(px, py) { this.stream.point(gridScale(px), gridScale(py)); }
}));
const bandLevels = d3.range(-9, 9, .2);

function drawMap(values, cx, cy, nLines) {
  const g = svg.append("g").attr("transform", `translate(${cx},${cy})`);

  g.append("circle").attr("r", 167.5).attr("fill", "none")
    .attr("stroke", "#e8f1fa").attr("stroke-width", 11);

  const inner = g.append("g").attr("clip-path", "url(#scalp-mask)");
  const bands = d3.contours().size([11, 11]).thresholds(bandLevels)(values);
  inner.selectAll("path.band").data(bands).enter().append("path")
    .attr("class", "band")
    .attr("d", gridPath)
    .attr("fill", d => color(d.value + .1));

  // contour lines spread evenly between the map's extremes
  const [lo, hi] = d3.extent(values);
  const levels = d3.range(1, nLines + 1).map(k => lo + (hi - lo) * k / (nLines + 1));
  const lines = d3.contours().size([11, 11]).thresholds(levels)(values);
  inner.selectAll("path.iso").data(lines).enter().append("path")
    .attr("class", "iso")
    .attr("d", gridPath)
    .attr("fill", "none")
    .attr("stroke", "#222").attr("stroke-width", 1.6);

  g.append("circle").attr("r", R).attr("fill", "none").attr("stroke", "#000").attr("stroke-width", 4.5);

  // nose and ears
  g.append("path").attr("d", `M-21,${-R + 1}L-4,${-R - 18}Q0,${-R - 22} 4,${-R - 18}L21,${-R + 1}`)
    .attr("fill", "none").attr("stroke", "#000").attr("stroke-width", 3);
  [-1, 1].forEach(s => {
    g.append("path")
      .attr("d", `M${s * 122},-30L${s * 128},-30Q${s * 134},-30 ${s * 134},-22L${s * 134},22Q${s * 134},33 ${s * 126},33L${s * 120},32`)
      .attr("fill", "none").attr("stroke", "#000").attr("stroke-width", 3);
  });

  const dots = [];
  dotRows.forEach(r => r[1].forEach(u => dots.push([u, r[0]])));
  rimDots.forEach(d => dots.push(d));
  g.selectAll("circle.dot").data(dots).enter().append("circle")
    .attr("class", "dot")
    .attr("cx", d => d[0] * R).attr("cy", d => d[1] * R).attr("r", 2.2).attr("fill", "#000");
}

components.forEach((name, i) => {
  drawMap(standardMaps[i], mapX[i], mapY[0], standardContours[i]);
  drawMap(deviantMaps[i], mapX[i], mapY[1], deviantContours[i]);
  svg.append("text").attr("x", mapX[i]).attr("y", 2727).attr("text-anchor", "middle")
    .attr("font-size", 60).attr("font-weight", "bold").text(name);
  svg.append("text").attr("x", mapX[i]).attr("y", 2789).attr("text-anchor", "middle")
    .attr("font-size", 53).text(componentInfo[i]);
});

/* row legends */
hline(svg, 656, 711, 2441, 7);
svg.append("text").attr("x", 744).attr("y", 2480).attr("font-size", 84.5).attr("font-weight", "bold").text("Standards");
svg.append("line").attr("x1", 697).attr("x2", 749).attr("y1", 2962).attr("y2", 2962)
  .attr("stroke", RED).attr("stroke-width", 7);
svg.append("text").attr("x", 766).attr("y", 3003).attr("font-size", 84).attr("font-weight", "bold")
  .style("fill", RED).text("Deviants");

/* colour bar */
{
  const barX = 3624, barW = 49;
  const y = d3.scaleLinear().domain([-8, 8]).range([3042, 2446]);
  const g = svg.append("g");
  const steps = d3.range(-8.6, 8.6, .28);
  g.selectAll("rect").data(steps).enter().append("rect")
    .attr("x", barX).attr("width", barW)
    .attr("y", d => y(d + .28) - .5)
    .attr("height", y(0) - y(.28) + 1)
    .attr("fill", d => color(d + .14));
  g.append("rect").attr("x", barX).attr("y", y(8.6)).attr("width", barW).attr("height", y(-8.6) - y(8.6))
    .attr("fill", "none").attr("stroke", "#333").attr("stroke-width", 2);
  const axis = g.append("g").attr("transform", `translate(${barX + barW},0)`)
    .call(d3.axisLeft(y).tickValues(colorbarTicks).tickSize(8).tickFormat(""));
  axis.select("path").remove();
  axis.selectAll("line").attr("stroke", "#333").attr("stroke-width", 2);
  colorbarLabels.forEach(v => {
    g.append("text").attr("x", v < 0 ? 3695 : 3697).attr("y", y(v) + 14)
      .attr("font-size", 46).text(v < 0 ? "-" + Math.abs(v) : v);
  });
  g.append("text").attr("x", 3750).attr("y", y(0) + 14).attr("font-size", 46).text("µV");
}
</script>
</body>
</html>
